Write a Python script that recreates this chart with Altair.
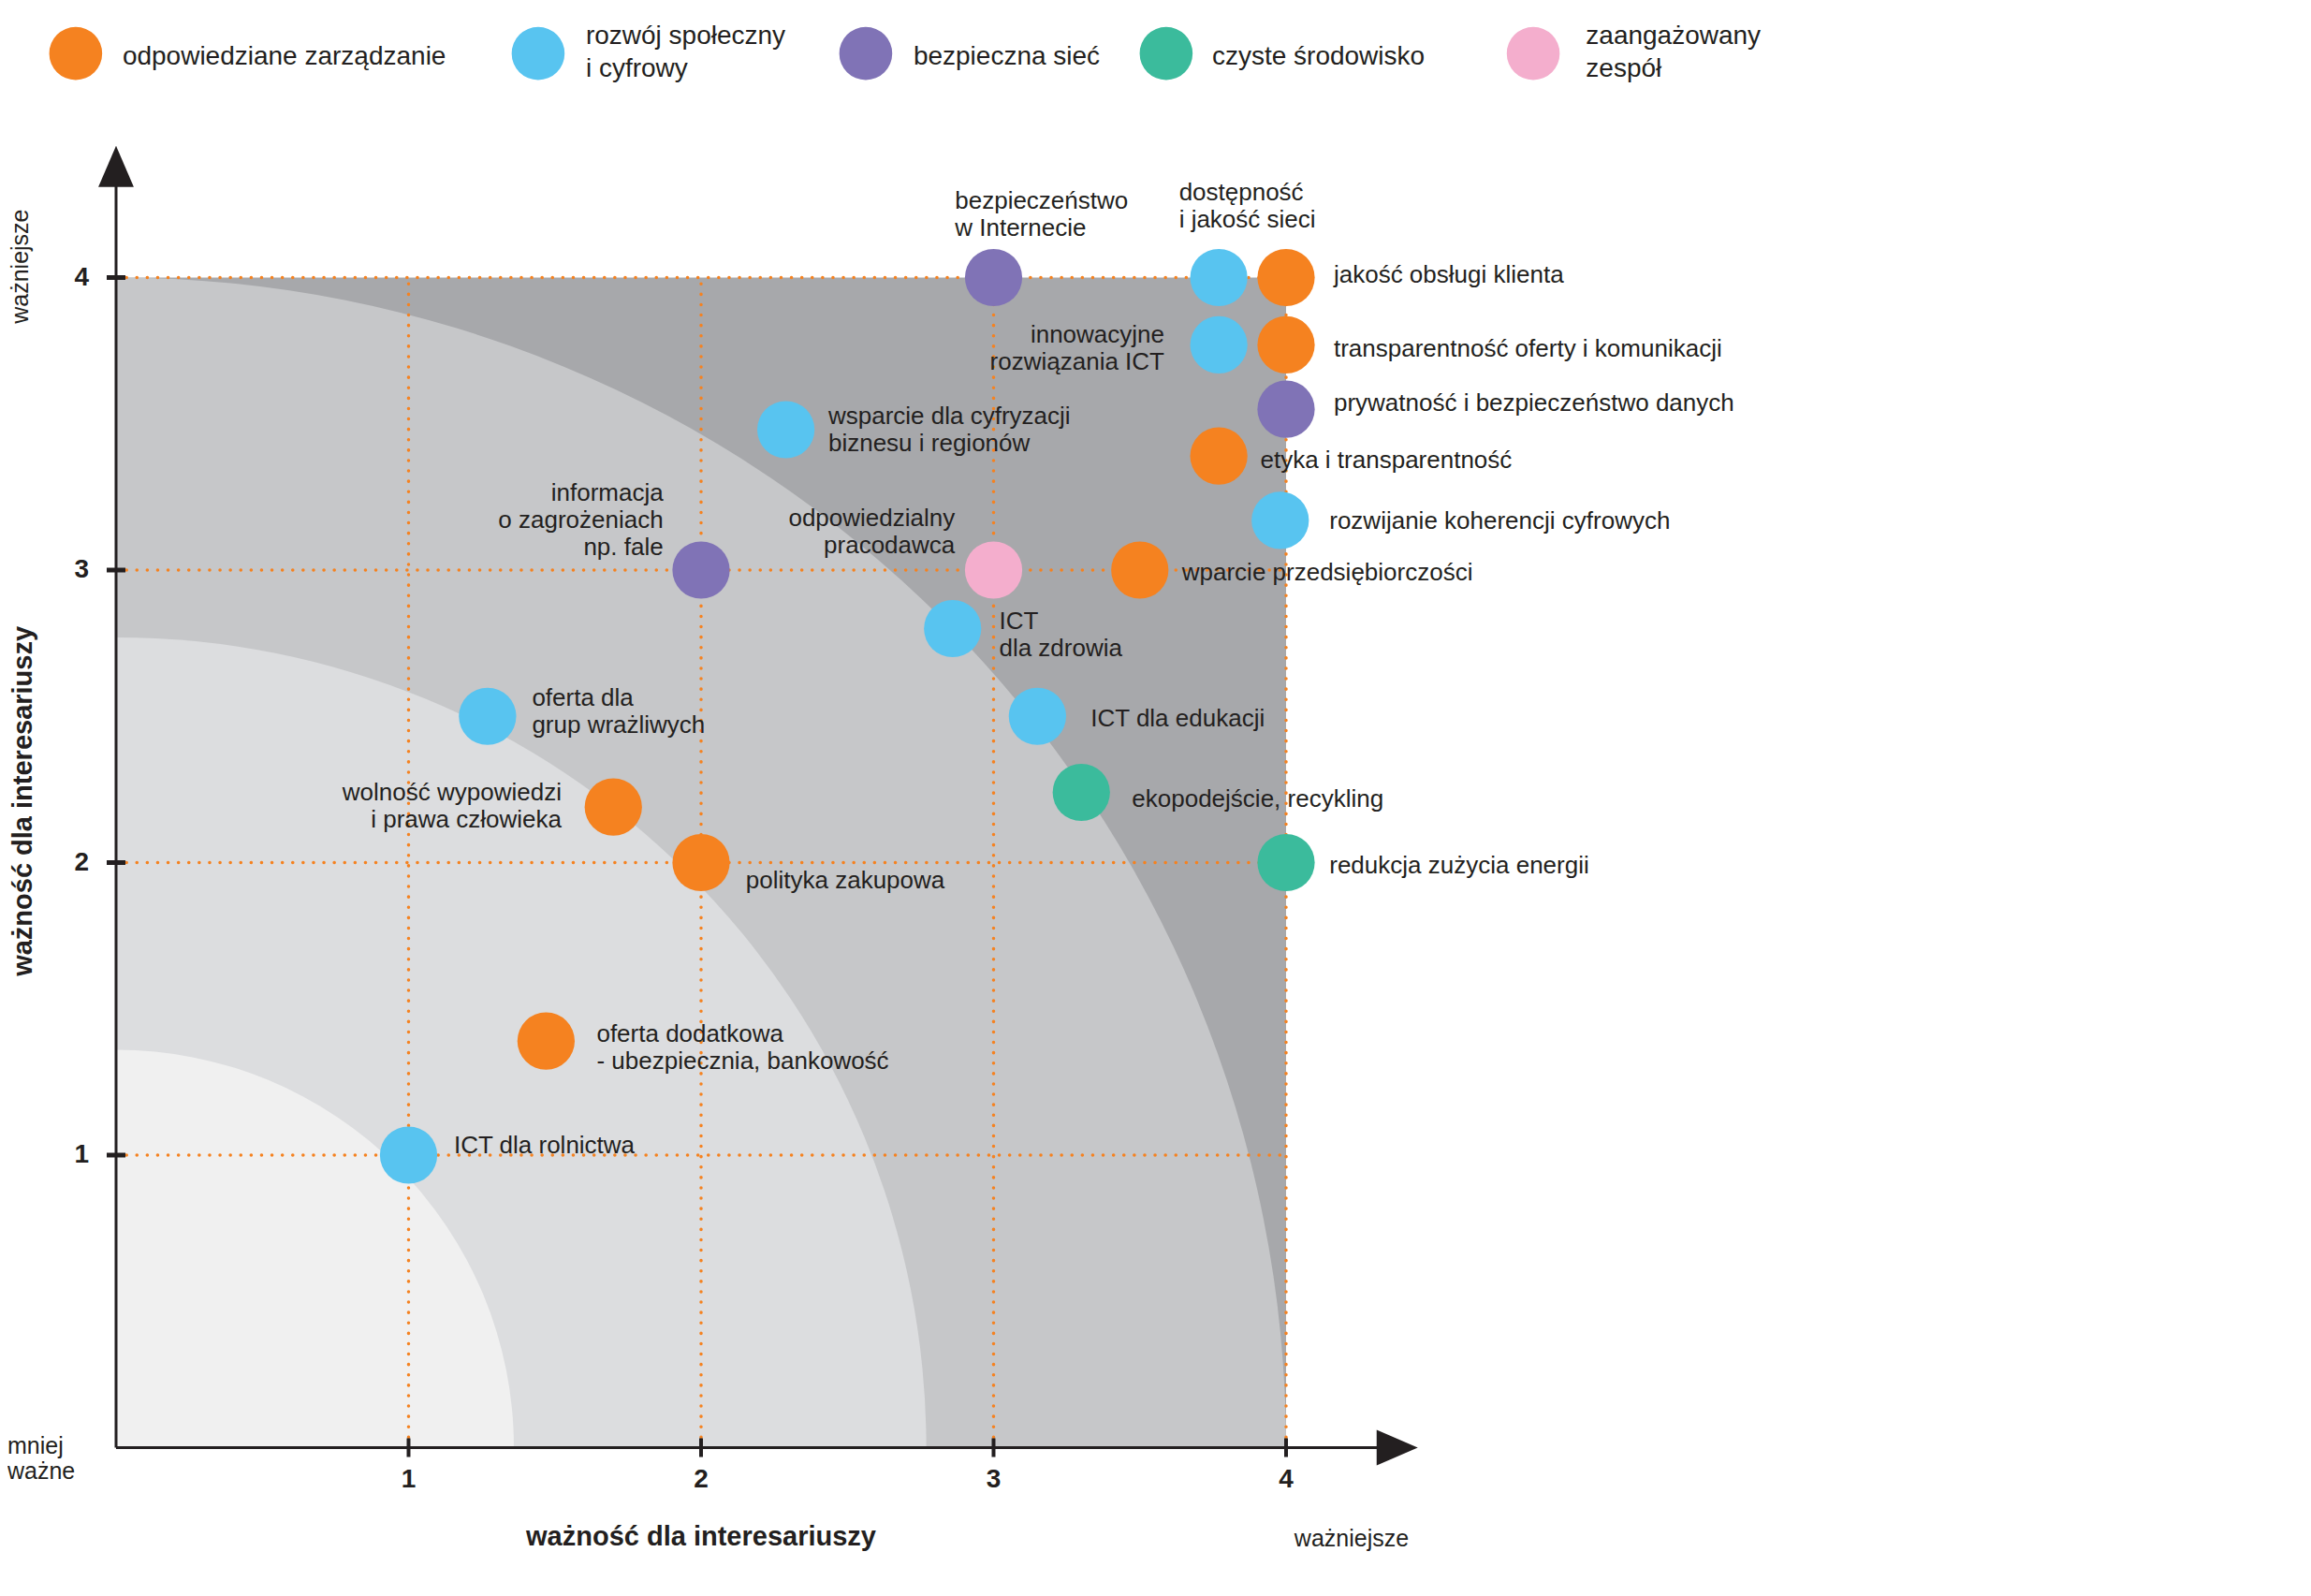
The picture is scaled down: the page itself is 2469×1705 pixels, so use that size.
import altair as alt
import pandas as pd

# ---------------- data ----------------
categories = ["odpowiedziane zarządzanie", "rozwój społeczny i cyfrowy", "bezpieczna sieć",
              "czyste środowisko", "zaangażowany zespół"]
legend_lines = ["odpowiedziane zarządzanie", "rozwój społeczny\ni cyfrowy", "bezpieczna sieć",
                "czyste środowisko", "zaangażowany\nzespół"]
cat_colors = ["#f58220", "#58c4f0", "#8073b6", "#3bbb9c", "#f4aecd"]
# legend entry positions (in chart units)
legend_x = [-0.138, 1.443, 2.563, 3.590, 4.845]
legend_y = [4.766, 4.766, 4.766, 4.766, 4.766]
legend_text_x = [0.022, 1.606, 2.726, 3.747, 5.025]
legend_text_y = [4.753, 4.823, 4.753, 4.753, 4.823]

topics = ["bezpieczeństwo w Internecie", "dostępność i jakość sieci", "jakość obsługi klienta",
          "innowacyjne rozwiązania ICT", "transparentność oferty i komunikacji",
          "prywatność i bezpieczeństwo danych", "etyka i transparentność",
          "rozwijanie koherencji cyfrowych", "wparcie przedsiębiorczości",
          "odpowiedzialny pracodawca", "informacja o zagrożeniach np. fale",
          "wsparcie dla cyfryzacji biznesu i regionów", "ICT dla zdrowia", "ICT dla edukacji",
          "ekopodejście, recykling", "redukcja zużycia energii", "oferta dla grup wrażliwych",
          "wolność wypowiedzi i prawa człowieka", "polityka zakupowa",
          "oferta dodatkowa - ubezpiecznia, bankowość", "ICT dla rolnictwa"]
stakeholder_importance = [3.0, 3.77, 4.0, 3.77, 4.0, 4.0, 3.77, 3.98, 3.5, 3.0, 2.0,
                          2.29, 2.86, 3.15, 3.30, 4.0, 1.27, 1.70, 2.0, 1.47, 1.0]
company_importance = [4.0, 4.0, 4.0, 3.77, 3.77, 3.55, 3.39, 3.17, 3.0, 3.0, 3.0,
                      3.48, 2.80, 2.50, 2.24, 2.0, 2.50, 2.19, 2.0, 1.39, 1.0]
topic_category = [2, 1, 0, 1, 0, 2, 0, 1, 0, 4, 2, 1, 1, 1, 3, 3, 1, 0, 0, 0, 1]

label_lines = ["bezpieczeństwo\nw Internecie", "dostępność\ni jakość sieci", "jakość obsługi klienta",
               "innowacyjne\nrozwiązania ICT", "transparentność oferty i komunikacji",
               "prywatność i bezpieczeństwo danych", "etyka i transparentność",
               "rozwijanie koherencji cyfrowych", "wparcie przedsiębiorczości",
               "odpowiedzialny\npracodawca", "informacja\no zagrożeniach\nnp. fale",
               "wsparcie dla cyfryzacji\nbiznesu i regionów", "ICT\ndla zdrowia", "ICT dla edukacji",
               "ekopodejście, recykling", "redukcja zużycia energii", "oferta dla\ngrup wrażliwych",
               "wolność wypowiedzi\ni prawa człowieka", "polityka zakupowa",
               "oferta dodatkowa\n- ubezpiecznia, bankowość", "ICT dla rolnictwa"]
label_x = [2.868, 3.634, 4.163, 3.584, 4.163, 4.163, 3.912, 4.148, 3.644, 2.868, 1.871,
           2.435, 3.019, 3.332, 3.473, 4.148, 1.422, 1.523, 2.153, 1.643, 1.155]
label_y = [4.264, 4.294, 4.012, 3.805, 3.760, 3.573, 3.377, 3.170, 2.994, 3.180, 3.266,
           3.528, 2.828, 2.495, 2.218, 1.991, 2.565, 2.243, 1.941, 1.417, 1.034]
label_side = ["left", "left", "left", "right", "left", "left", "left", "left", "left", "right",
              "right", "left", "left", "left", "left", "left", "left", "right", "left", "left", "left"]

band_radius = [4.0, 2.77, 1.36]
band_colors = ["#c6c7c9", "#dcdddf", "#f0f0f0"]
ticks = [1, 2, 3, 4]
axis_end = 4.38

# ---------------- layout ----------------
PX = 312.5                      # pixels per unit
W, H = 2440, 1680
ORIGIN_PAGE_X, ORIGIN_PAGE_Y = 124, 1546.5
xmin = -(ORIGIN_PAGE_X - 8) / PX
xmax = xmin + W / PX
ymax = (ORIGIN_PAGE_Y - 8) / PX
ymin = ymax - H / PX

FONT = "Liberation Sans"
TXT = "#231f20"
xsc = alt.Scale(domain=[xmin, xmax], nice=False, zero=False)
ysc = alt.Scale(domain=[ymin, ymax], nice=False, zero=False)
csc = alt.Scale(domain=categories, range=cat_colors)


def X(f="x"):
    return alt.X(f"{f}:Q", scale=xsc, axis=None)


def Y(f="y"):
    return alt.Y(f"{f}:Q", scale=ysc, axis=None)


points = pd.DataFrame({
    "topic": topics,
    "x": stakeholder_importance,
    "y": company_importance,
    "cat": [categories[i] for i in topic_category],
})
labels = pd.DataFrame({"text": label_lines, "x": label_x, "y": label_y, "side": label_side})
legend_df = pd.DataFrame({"cat": categories, "text": legend_lines, "x": legend_x,
                          "y": legend_y, "tx": legend_text_x, "ty": legend_text_y})
bands = pd.DataFrame({"x": [0] * 3, "y": [0] * 3, "r": band_radius, "band": ["b1", "b2", "b3"]})
square = pd.DataFrame({"x": [0], "y": [0], "x2": [4], "y2": [4]})
grid_v = pd.DataFrame({"x": ticks, "y": [0] * 4, "y2": [4] * 4})
grid_h = pd.DataFrame({"y": ticks, "x": [0] * 4, "x2": [4] * 4})
axes_df = pd.DataFrame({"x": [0, 0], "y": [0, 0], "x2": [axis_end, 0], "y2": [0, axis_end]})
ticks_df = pd.DataFrame({"t": ticks, "zero": [0] * 4, "lab": [str(t) for t in ticks]})

base_sq = alt.Chart(square).mark_rect(color="#a7a8ab").encode(
    x=X(), x2="x2", y=Y(), y2="y2")

arcs = alt.Chart(bands).mark_arc(theta=0, theta2=1.5707963).encode(
    x=X(), y=Y(),
    radius=alt.Radius("r:Q", stack=False,
                      scale=alt.Scale(type="linear", domain=[0, 4], range=[0, 4 * PX],
                                      zero=True, nice=False)),
    fill=alt.Fill("band:N", scale=alt.Scale(domain=["b1", "b2", "b3"], range=band_colors), legend=None),
)

dot = dict(color="#f58220", strokeWidth=3.5, strokeDash=[0.1, 11], strokeCap="round")
gv = alt.Chart(grid_v).mark_rule(**dot).encode(x=X(), y=Y(), y2="y2")
gh = alt.Chart(grid_h).mark_rule(**dot).encode(x=X(), x2="x2", y=Y())

axis_lines = alt.Chart(axes_df).mark_rule(color=TXT, strokeWidth=3).encode(
    x=X(), y=Y(), x2="x2", y2="y2")

arrow_up = alt.Chart(pd.DataFrame({"x": [0], "y": [axis_end]})).mark_point(
    shape="M-0.86,1L0,-1L0.86,1Z", size=1936, filled=True, opacity=1, color=TXT).encode(x=X(), y=Y())
arrow_right = alt.Chart(pd.DataFrame({"x": [axis_end], "y": [0]})).mark_point(
    shape="M-1,-0.86L1,0L-1,0.86Z", size=1936, filled=True, opacity=1, color=TXT).encode(x=X(), y=Y())

yticks = alt.Chart(ticks_df).mark_tick(orient="horizontal", size=20, thickness=5, color=TXT, opacity=1).encode(
    x=X("zero"), y=Y("t"))
xticks = alt.Chart(ticks_df).mark_tick(orient="vertical", size=20, thickness=4, color=TXT, opacity=1).encode(
    x=X("t"), y=Y("zero"))
ylabs = alt.Chart(ticks_df).mark_text(font=FONT, fontSize=28, fontWeight="bold", color=TXT,
                                      align="right", baseline="middle", dx=-29).encode(
    x=X("zero"), y=Y("t"), text="lab:N")
xlabs = alt.Chart(ticks_df).mark_text(font=FONT, fontSize=28, fontWeight="bold", color=TXT,
                                      align="center", baseline="alphabetic", dy=42).encode(
    x=X("t"), y=Y("zero"), text="lab:N")

xtitle = alt.Chart(pd.DataFrame({"text": ["ważność dla interesariuszy"], "x": [2.0], "y": [0.0]})).mark_text(
    font=FONT, fontSize=29, fontWeight="bold", color=TXT, align="center", baseline="alphabetic", dy=104).encode(
    x=X(), y=Y(), text="text:N")
ytitle = alt.Chart(pd.DataFrame({"text": ["ważność dla interesariuszy"], "x": [-0.318], "y": [2.21]})).mark_text(
    font=FONT, fontSize=29, fontWeight="bold", color=TXT, align="center", baseline="middle", angle=270).encode(
    x=X(), y=Y(), text="text:N")
ytop = alt.Chart(pd.DataFrame({"text": ["ważniejsze"], "x": [-0.326], "y": [4.038]})).mark_text(
    font=FONT, fontSize=25, color=TXT, align="center", baseline="middle", angle=270).encode(
    x=X(), y=Y(), text="text:N")
xright = alt.Chart(pd.DataFrame({"text": ["ważniejsze"], "x": [4.224], "y": [-0.312]})).mark_text(
    font=FONT, fontSize=25, color=TXT, align="center", baseline="middle").encode(
    x=X(), y=Y(), text="text:N")
corner = alt.Chart(pd.DataFrame({"text": ["mniej\nważne"], "x": [xmin], "y": [-0.021]})).mark_text(
    font=FONT, fontSize=25, color=TXT, align="left", baseline="alphabetic", lineBreak="\n",
    lineHeight=27).encode(x=X(), y=Y(), text="text:N")

pts = alt.Chart(points).mark_circle(size=3750, opacity=1).encode(
    x=X(), y=Y(),
    color=alt.Color("cat:N", scale=csc, legend=None),
    tooltip=["topic:N"],
)

lab_left = alt.Chart(labels).transform_filter(alt.datum.side == "left").mark_text(
    font=FONT, fontSize=26, color=TXT, align="left", baseline="middle", lineBreak="\n",
    lineHeight=29, dy=1).encode(x=X(), y=Y(), text="text:N")
lab_right = alt.Chart(labels).transform_filter(alt.datum.side == "right").mark_text(
    font=FONT, fontSize=26, color=TXT, align="right", baseline="middle", lineBreak="\n",
    lineHeight=29, dy=1).encode(x=X(), y=Y(), text="text:N")

# legend (drawn with the same colour scale as the points)
leg_sym = alt.Chart(legend_df).mark_circle(size=3200, opacity=1).encode(
    x=X(), y=Y(), color=alt.Color("cat:N", scale=csc, legend=None))
leg_txt = alt.Chart(legend_df).mark_text(
    font=FONT, fontSize=28, color=TXT, align="left", baseline="middle", lineBreak="\n",
    lineHeight=35).encode(x=X("tx"), y=Y("ty"), text="text:N")

chart = alt.layer(
    base_sq, arcs, gv, gh, axis_lines, arrow_up, arrow_right, yticks, xticks,
    ylabs, xlabs, xtitle, ytitle, ytop, xright, corner, pts, lab_left, lab_right,
    leg_sym, leg_txt,
).properties(
    width=W, height=H, padding=0, autosize=alt.AutoSizeParams(type="none"),
).configure_view(stroke=None)

chart.save("out.html", embed_options={"renderer": "svg", "actions": False})
